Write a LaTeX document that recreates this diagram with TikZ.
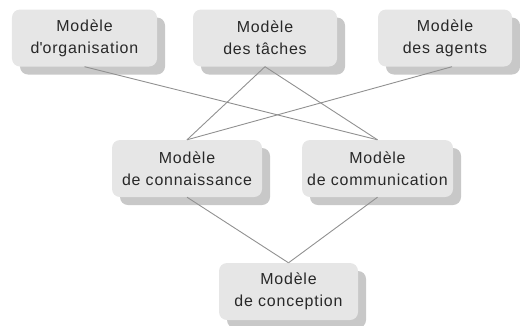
\documentclass[tikz,border=0pt]{standalone}
\usepackage{fontspec}
\setmainfont{Liberation Sans}
\newfontfamily\boxfont[LetterSpace=5]{Liberation Sans}
\usetikzlibrary{shadows}
\definecolor{boxgray}{RGB}{230,230,230}
\definecolor{shadowgray}{RGB}{200,200,200}
\definecolor{linegray}{RGB}{145,145,145}
\definecolor{textgray}{RGB}{40,40,40}
\begin{document}
\begin{tikzpicture}[x=1bp,y=-1bp,every node/.style = {fill=boxgray, text=textgray, align=center, rounded corners=8bp, inner sep=0pt, minimum height=57bp, font=\boxfont\fontsize{16}{22}\selectfont, drop shadow={shadow xshift=8bp,shadow yshift=-8bp,fill=shadowgray,opacity=1}},link/.style={draw=linegray, line width=0.9bp}]
\useasboundingbox (0,0) rectangle (520,325);
\node[minimum width=145bp] (orga) at (84.5,38) {Modèle\\d\textquotesingle organisation};
\node[minimum width=144bp] (taches) at (265,38) {Modèle\\des tâches};
\node[minimum width=134bp] (agents) at (445,38) {Modèle\\des agents};
\node[minimum width=150bp] (connaissance) at (187,168.5) {Modèle\\de connaissance};
\node[minimum width=151bp] (communication) at (377.5,168.5) {Modèle\\de communication};
\node[minimum width=139bp] (conception) at (288.5,291.5) {Modèle\\de conception};
\draw[link] (orga.south) -- (communication.north);
\draw[link] (taches.south) -- (connaissance.north);
\draw[link] (taches.south) -- (communication.north);
\draw[link] ([xshift=7bp]agents.south) -- (connaissance.north);
\draw[link] (connaissance.south) -- (conception.north);
\draw[link] (communication.south) -- (conception.north);
\end{tikzpicture}
\end{document}
